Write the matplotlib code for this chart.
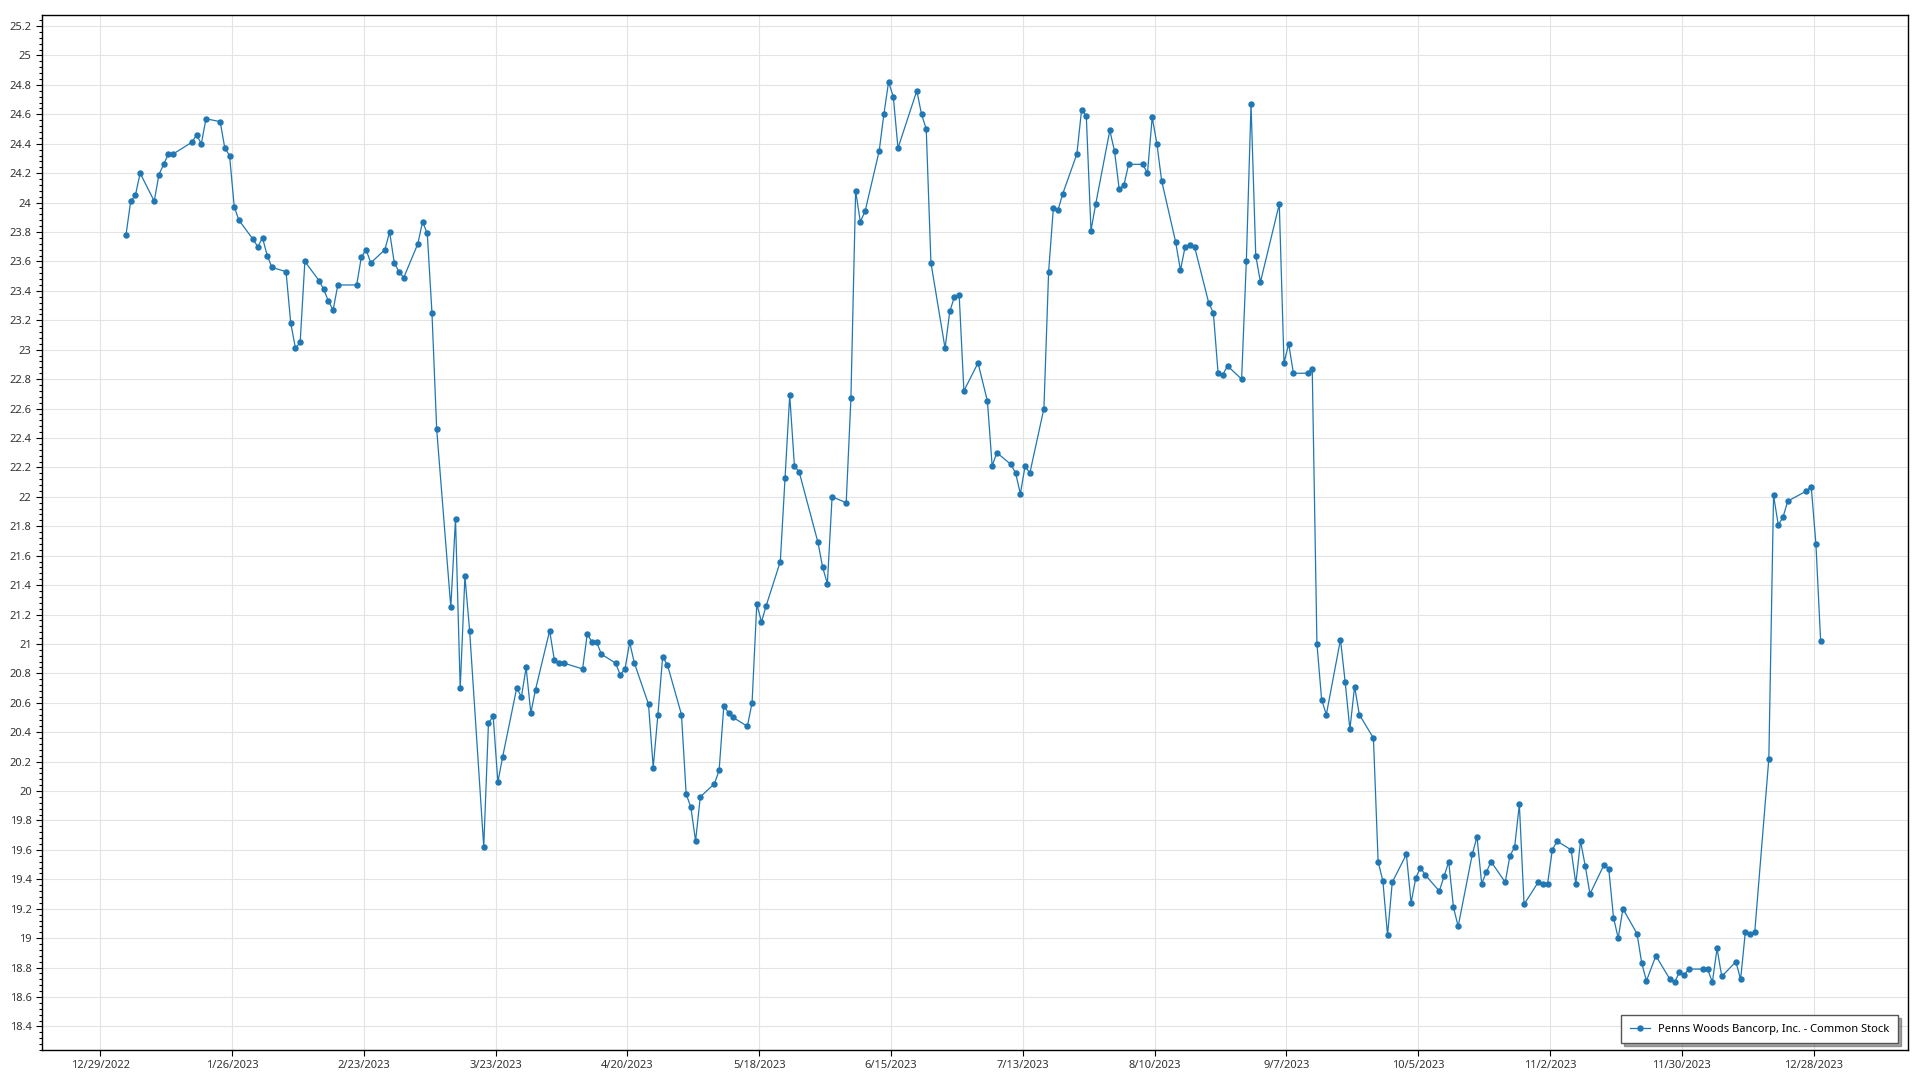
import matplotlib

matplotlib.use("Agg")

import matplotlib.pyplot as plt
import matplotlib.ticker as mticker
import pandas as pd

plt.rcParams["font.family"] = ["Noto Sans", "DejaVu Sans"]

# closing prices, one list per month of 2023
jan = [23.78, 24.01, 24.05, 24.20, 24.01, 24.19, 24.26, 24.33, 24.33, 24.41,
       24.46, 24.40, 24.57, 24.55, 24.37, 24.32, 23.97, 23.88, 23.75, 23.70]
feb = [23.76, 23.64, 23.56, 23.53, 23.18, 23.01, 23.05, 23.60, 23.47, 23.41,
       23.33, 23.27, 23.44, 23.44, 23.63, 23.68, 23.59, 23.68, 23.80]
mar = [23.59, 23.53, 23.49, 23.72, 23.87, 23.79, 23.25, 22.46, 21.25, 21.85,
       20.70, 21.46, 21.09, 19.62, 20.46, 20.51, 20.06, 20.23, 20.70, 20.64,
       20.84, 20.53, 20.69]
apr = [21.09, 20.89, 20.87, 20.87, 20.83, 21.07, 21.01, 21.01, 20.93, 20.87,
       20.79, 20.83, 21.01, 20.87, 20.59, 20.16, 20.52, 20.91, 20.86]
may = [20.52, 19.98, 19.89, 19.66, 19.96, 20.05, 20.14, 20.58, 20.53, 20.50,
       20.44, 20.60, 21.27, 21.15, 21.26, 21.56, 22.13, 22.69, 22.21, 22.17,
       21.69, 21.52]
jun = [21.41, 22.00, 21.96, 22.67, 24.08, 23.87, 23.94, 24.35, 24.60, 24.82,
       24.72, 24.37, 24.76, 24.60, 24.50, 23.59, 23.01, 23.26, 23.36, 23.37,
       22.72]
jul = [22.91, 22.65, 22.21, 22.30, 22.22, 22.16, 22.02, 22.21, 22.16, 22.60,
       23.53, 23.96, 23.95, 24.06, 24.33, 24.63, 24.59, 23.81, 23.99, 24.49]
aug = [24.35, 24.09, 24.12, 24.26, 24.26, 24.20, 24.58, 24.40, 24.15, 23.73,
       23.54, 23.70, 23.71, 23.70, 23.32, 23.25, 22.84, 22.83, 22.89, 22.80,
       23.60, 24.67, 23.64]
sep = [23.46, 23.99, 22.91, 23.04, 22.84, 22.84, 22.87, 21.00, 20.62, 20.52,
       21.03, 20.74, 20.42, 20.71, 20.52, 20.36, 19.52, 19.39, 19.02, 19.38]
oct = [19.57, 19.24, 19.41, 19.48, 19.43, 19.32, 19.42, 19.52, 19.21, 19.08,
       19.57, 19.69, 19.37, 19.45, 19.52, 19.38, 19.56, 19.62, 19.91, 19.23,
       19.38, 19.37]
nov = [19.37, 19.60, 19.66, 19.60, 19.37, 19.66, 19.49, 19.30, 19.50, 19.47,
       19.14, 19.00, 19.20, 19.03, 18.83, 18.71, 18.88, 18.72, 18.70, 18.77,
       18.75]
dec = [18.79, 18.79, 18.79, 18.70, 18.93, 18.74, 18.84, 18.72, 19.04, 19.03,
       19.04, 20.22, 22.01, 21.81, 21.86, 21.97, 22.04, 22.07, 21.68, 21.02]

market_holidays = ["2023-01-16", "2023-02-20", "2023-04-07", "2023-05-29",
                   "2023-06-19", "2023-07-04", "2023-09-04", "2023-11-23",
                   "2023-12-25"]
tick_dates = pd.date_range("2022-12-29", "2023-12-28", freq="28D")
series_name = "Penns Woods Bancorp, Inc. - Common Stock"

prices = jan + feb + mar + apr + may + jun + jul + aug + sep + oct + nov + dec
dates = pd.bdate_range("2023-01-03", "2023-12-29", freq="C",
                       holidays=market_holidays)
assert len(dates) == len(prices)
dates = dates + pd.Timedelta(hours=12)  # quotes sit mid-day in the source

fig = plt.figure(figsize=(19.2, 10.8), dpi=100)
fig.set_facecolor("white")
ax = fig.add_axes([0.0219, 0.0278, 0.9719, 0.9583])

ax.plot(dates, prices, color="#1f77b4", linewidth=0.9, marker="o",
        markersize=3.6, label=series_name)

ax.set_xlim(pd.Timestamp("2022-12-16 16:00"), pd.Timestamp("2024-01-17 02:00"))
ax.set_ylim(18.24, 25.275)

ax.set_xticks(tick_dates)
ax.set_xticklabels([f"{d.month}/{d.day}/{d.year}" for d in tick_dates])
ax.yaxis.set_major_locator(mticker.MultipleLocator(0.2))
ax.yaxis.set_minor_locator(mticker.AutoMinorLocator(5))
ax.yaxis.set_major_formatter(
    mticker.FuncFormatter(lambda v, pos: f"{round(v, 2):g}"))

ax.tick_params(axis="both", labelsize=8, colors="black", labelcolor="#333333",
               length=4, width=0.8)
ax.tick_params(axis="y", which="minor", length=2, width=0.8)
ax.grid(True, which="major", color="#e3e3e3", linewidth=0.8)
ax.set_axisbelow(True)
for spine in ax.spines.values():
    spine.set_color("black")
    spine.set_linewidth(1.0)

legend = ax.legend(loc="lower right", fontsize=8, fancybox=False,
                   shadow=True, framealpha=1, edgecolor="#555555",
                   handlelength=1.8, borderpad=0.75, borderaxespad=0,
                   bbox_to_anchor=(0.9946, 0.0068))
legend.get_frame().set_linewidth(1.0)

fig.savefig("out.png", dpi=100)
